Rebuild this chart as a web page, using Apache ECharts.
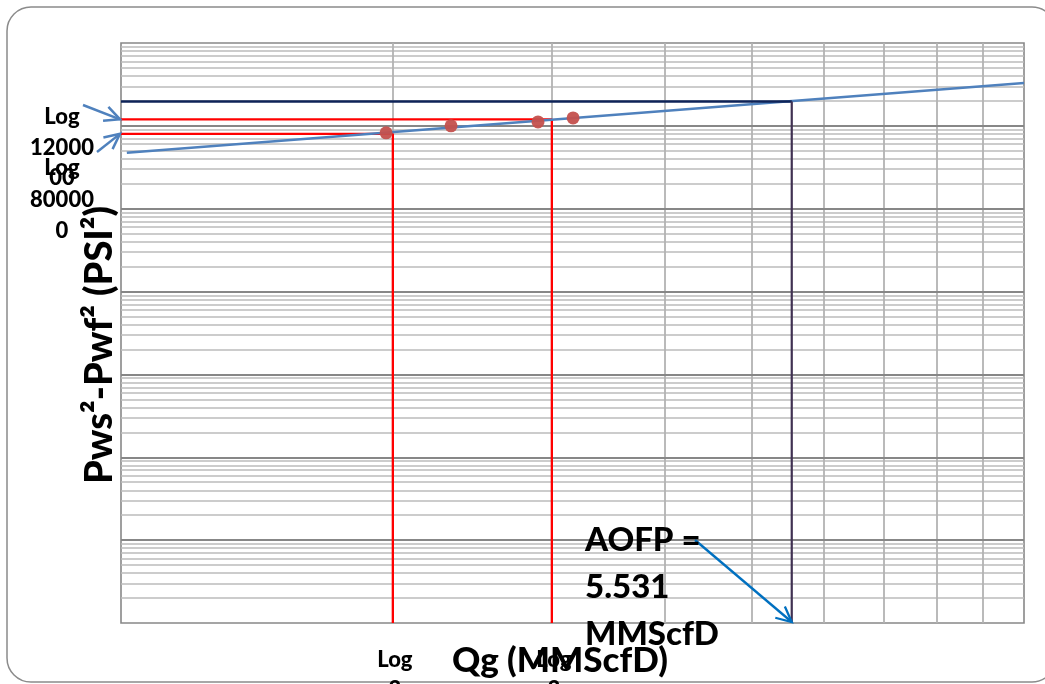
<!DOCTYPE html>
<html>
<head>
<meta charset="utf-8">
<script src="https://cdn.jsdelivr.net/npm/echarts@6/dist/echarts.min.js"></script>
<style>
  html, body { margin: 0; padding: 0; background: #fff; }
  #chart { width: 1045px; height: 684px; }
</style>
</head>
<body>
<div id="chart"></div>
<script>
// Multi-rate deliverability test: gas rate (MMscf/D) against Pws² - Pwf² (psi²)
const testRates = [1.966, 2.32, 2.896, 3.167];
const testDeltaP2 = [823700, 1000000, 1117000, 1248000];

// Fitted back-pressure line (end points)
const trendRates = [1.015, 10];
const trendDeltaP2 = [473000, 3300000];

// Shut-in level (Pws²) and the open-flow potential read at that level
const shutInP2 = 1970000;
const aofp = 5.531;

// Read-off construction lines: rate and Pws² - Pwf² pairs
const readRates = [2, 3];
const readDeltaP2 = [800000, 1200000];

// Log-log graph paper
const rateRange = [1, 10];
const deltaP2Range = [1, 10000000];
const rateGrid = [2, 3, 4, 5, 6, 7, 8, 9];
const decadeGrid = [10, 100, 1000, 10000, 100000, 1000000];
const decadeStarts = [1, 10, 100, 1000, 10000, 100000, 1000000];
const minorSteps = [2, 3, 4, 5, 6, 7, 8, 9];

// Annotation texts
const yReadLabels = ['Log\n12000\n00', 'Log\n80000\n0'];
const xReadLabels = ['Log\n2', 'Log\n3'];
const aofpLabel = 'AOFP =\n' + aofp + '\nMMScfD';
const xTitle = 'Qg (MMScfD)';
const yTitle = 'Pws²-Pwf² (PSI²)';

const FONT = 'Lato, "Open Sans", sans-serif';

const chart = echarts.init(document.getElementById('chart'), null, { renderer: 'canvas' });

const hLine = v => ({ coords: [[rateRange[0], v], [rateRange[1], v]] });
const vLine = q => ({ coords: [[q, deltaP2Range[0]], [q, deltaP2Range[1]]] });

const minorLines = [];
decadeStarts.forEach(d => minorSteps.forEach(m => minorLines.push(hLine(d * m))));

const gridSeries = (data, color, width) => ({
  type: 'lines',
  coordinateSystem: 'cartesian2d',
  data: data,
  silent: true,
  z: 1,
  lineStyle: { color: color, width: width, opacity: 1 },
  animation: false
});

const readSeries = readRates.map((q, i) => ({
  type: 'line',
  data: [[rateRange[0], readDeltaP2[i]], [q, readDeltaP2[i]], [q, deltaP2Range[0]]],
  symbol: 'none',
  lineStyle: { color: '#FF0000', width: 2.3 },
  z: 3,
  animation: false
}));

chart.setOption({
  backgroundColor: '#ffffff',
  animation: false,
  grid: {
    left: 121, right: 21, top: 43, bottom: 61,
    show: true, borderColor: '#888888', borderWidth: 1.6, backgroundColor: 'transparent'
  },
  xAxis: {
    type: 'log', logBase: 10, min: rateRange[0], max: rateRange[1],
    axisLine: { show: false }, axisTick: { show: false },
    axisLabel: { show: false }, splitLine: { show: false }
  },
  yAxis: {
    type: 'log', logBase: 10, min: deltaP2Range[0], max: deltaP2Range[1],
    axisLine: { show: false }, axisTick: { show: false },
    axisLabel: { show: false }, splitLine: { show: false }
  },
  series: [
    gridSeries(minorLines, '#BBBBBB', 1.5),
    gridSeries(rateGrid.map(vLine), '#B3B3B3', 1.8),
    gridSeries(decadeGrid.map(hLine), '#878787', 1.8),
    ...readSeries,
    {
      type: 'line',
      data: trendRates.map((q, i) => [q, trendDeltaP2[i]]),
      symbol: 'none',
      lineStyle: { color: '#4F81BD', width: 2.5 },
      z: 4,
      animation: false
    },
    {
      type: 'line',
      data: [[rateRange[0], shutInP2], [aofp, shutInP2]],
      symbol: 'none',
      lineStyle: { color: '#0E2358', width: 2.5 },
      z: 5,
      animation: false
    },
    {
      type: 'line',
      data: [[aofp, shutInP2], [aofp, deltaP2Range[0]]],
      symbol: 'none',
      lineStyle: { color: '#403152', width: 2.2 },
      z: 5,
      animation: false
    },
    {
      type: 'scatter',
      data: testRates.map((q, i) => [q, testDeltaP2[i]]),
      symbol: 'circle',
      symbolSize: 13,
      itemStyle: { color: '#C4504D', opacity: 0.95 },
      z: 6,
      animation: false
    }
  ]
});

// Pixel helpers for annotations tied to data positions
const px = (q, p) => chart.convertToPixel({ gridIndex: 0 }, [q, p]);

function arrow(from, to, color, width) {
  const dx = to[0] - from[0], dy = to[1] - from[1];
  const ang = Math.atan2(dy, dx);
  const len = 17, spread = 0.45;
  const a1 = [to[0] - len * Math.cos(ang - spread), to[1] - len * Math.sin(ang - spread)];
  const a2 = [to[0] - len * Math.cos(ang + spread), to[1] - len * Math.sin(ang + spread)];
  return [
    { type: 'line', z: 20, silent: true,
      shape: { x1: from[0], y1: from[1], x2: to[0], y2: to[1] },
      style: { stroke: color, lineWidth: width } },
    { type: 'polyline', z: 20, silent: true,
      shape: { points: [a1, to, a2] },
      style: { stroke: color, lineWidth: width, fill: null, lineJoin: 'miter' } }
  ];
}

const text = (str, x, y, size, opts) => ({
  type: 'text',
  z: 30,
  silent: true,
  style: Object.assign({
    text: str, x: x, y: y,
    font: '900 ' + size + 'px ' + FONT,
    fill: '#000000',
    align: 'center', verticalAlign: 'middle'
  }, opts || {})
});

const tipHigh = px(rateRange[0], readDeltaP2[1]);
const tipLow = px(rateRange[0], readDeltaP2[0]);
const tipAofp = px(aofp, deltaP2Range[0]);
const xRead0 = px(readRates[0], deltaP2Range[0]);
const xRead1 = px(readRates[1], deltaP2Range[0]);

const yTitleEl = text(yTitle, 0, 0, 38);
yTitleEl.x = 100;
yTitleEl.y = 345;
yTitleEl.rotation = Math.PI / 2;

chart.setOption({
  graphic: [
    {
      type: 'rect', z: -5, silent: true,
      shape: { x: 7, y: 7, width: 1049, height: 675, r: 24 },
      style: { fill: null, stroke: '#8B8B8B', lineWidth: 1.5 }
    },
    ...arrow([83, 105], [tipHigh[0] - 1, tipHigh[1]], '#4F81BD', 2.5),
    ...arrow([97, 152], [tipLow[0] - 1, tipLow[1]], '#4F81BD', 2.5),
    ...arrow([695, 540], [tipAofp[0], tipAofp[1] - 1], '#0070C0', 2.3),
    text(yReadLabels[0], 62, 147.5, 22, { lineHeight: 30.5 }),
    text(yReadLabels[1], 62, 199.5, 22, { lineHeight: 31.5 }),
    text(xReadLabels[0], xRead0[0] + 2, 675, 22, { lineHeight: 30 }),
    text(xReadLabels[1], xRead1[0] + 2, 675, 22, { lineHeight: 30 }),
    text(xTitle, 560, 661, 35),
    text(aofpLabel, 585, 587, 33, { align: 'left', lineHeight: 47 }),
    yTitleEl
  ]
});
</script>
</body>
</html>
